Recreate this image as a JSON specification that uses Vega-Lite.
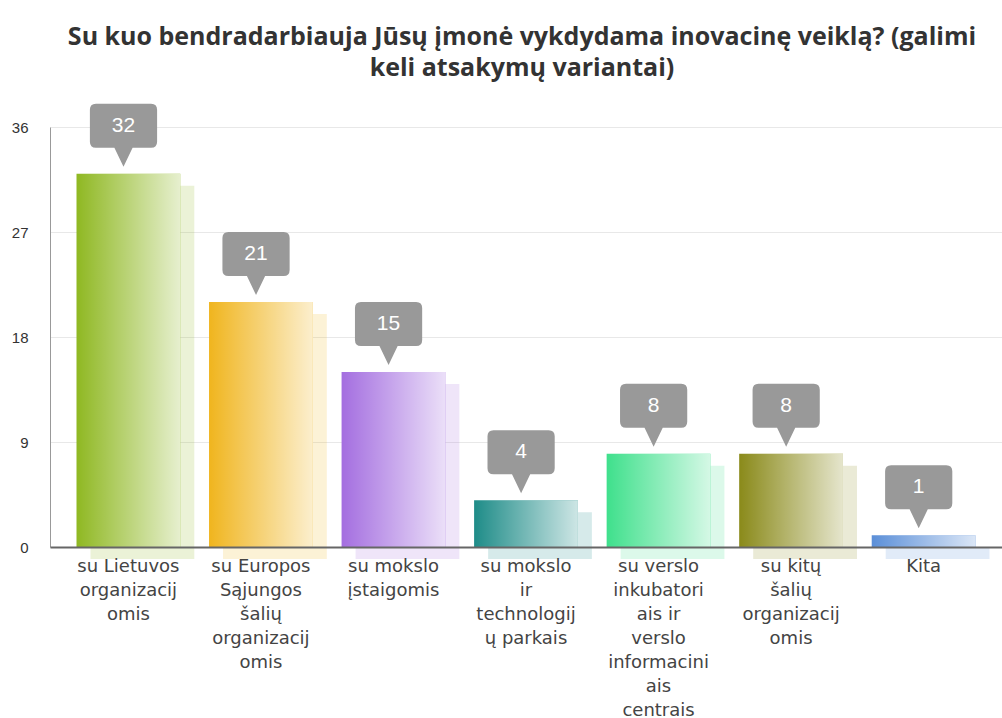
{
  "$schema": "https://vega.github.io/schema/vega-lite/v6.json",
  "autosize": {"type": "none"},
  "width": 952,
  "height": 420,
  "padding": {"left": 50, "top": 127, "right": 0, "bottom": 171},
  "background": "white",
  "title": {
    "text": ["Su kuo bendradarbiauja Jūsų įmonė vykdydama inovacinę veiklą? (galimi", "keli atsakymų variantai)"],
    "anchor": "middle",
    "dx": -4,
    "font": "Open Sans",
    "fontSize": 25,
    "fontWeight": "bold",
    "color": "#333333",
    "lineHeight": 31,
    "offset": 23
  },
  "config": {"view": {"stroke": null}},
  "data": {
    "values": [
      {"category": "su Lietuvos\norganizacij\nomis", "value": 32},
      {"category": "su Europos\nSąjungos\nšalių\norganizacij\nomis", "value": 21},
      {"category": "su mokslo\nįstaigomis", "value": 15},
      {"category": "su mokslo\nir\ntechnologij\nų parkais", "value": 4},
      {"category": "su verslo\ninkubatori\nais ir\nverslo\ninformacini\nais\ncentrais", "value": 8},
      {"category": "su kitų\nšalių\norganizacij\nomis", "value": 8},
      {"category": "Kita", "value": 1}
    ]
  },
  "encoding": {
    "x": {
      "field": "category", "type": "nominal", "sort": null,
      "scale": {"paddingInner": 0.217, "paddingOuter": 0.2},
      "axis": {
        "title": null, "labelAngle": 0, "ticks": false,
        "domainColor": "#666666", "domainWidth": 2, "zindex": 2,
        "labelExpr": "split(datum.label, '\\n')",
        "labelFont": "DejaVu Sans", "labelFontSize": 18, "labelColor": "#444444",
        "labelLineHeight": 24, "labelPadding": 10, "labelBaseline": "top"
      }
    },
    "y": {
      "field": "value", "type": "quantitative",
      "scale": {"domain": [0, 36], "nice": false},
      "axis": {
        "title": null, "values": [0, 9, 18, 27, 36], "ticks": false,
        "grid": true, "gridColor": "#e8e8e8",
        "domainColor": "#999999",
        "labelFont": "Liberation Sans", "labelFontSize": 15, "labelColor": "#333333",
        "labelPadding": 22
      }
    }
  },
  "layer": [
    {
      "mark": {"type": "bar", "opacity": 0.18, "xOffset": 14, "yOffset": 12, "y2Offset": 14},
      "encoding": {
        "color": {
          "field": "category", "type": "nominal", "legend": null, "sort": null,
          "scale": {"range": ["#8fb822", "#f0b51e", "#a46ee0", "#1e8c88", "#3fe08c", "#8a8a1a", "#5b8fd8"]}
        }
      }
    },
    {
      "mark": {"type": "bar"},
      "encoding": {
        "color": {
          "field": "category", "type": "nominal", "legend": null, "sort": null,
          "scale": {"range": ["#8fb822", "#f0b51e", "#a46ee0", "#1e8c88", "#3fe08c", "#8a8a1a", "#5b8fd8"]}
        }
      }
    },
    {
      "mark": {
        "type": "bar",
        "color": {
          "gradient": "linear", "x1": 0, "y1": 0, "x2": 1, "y2": 0,
          "stops": [
            {"offset": 0, "color": "rgba(255,255,255,0)"},
            {"offset": 1, "color": "rgba(255,255,255,0.78)"}
          ]
        }
      }
    },
    {
      "mark": {
        "type": "point", "filled": true, "fill": "#999999", "opacity": 1, "strokeWidth": 0,
        "size": 19600,
        "shape": "M-0.464,-1 L0.324,-1 Q0.41,-1 0.41,-0.914 L0.41,-0.457 Q0.41,-0.371 0.324,-0.371 L0.06,-0.371 L-0.07,-0.1 L-0.2,-0.371 L-0.464,-0.371 Q-0.55,-0.371 -0.55,-0.457 L-0.55,-0.914 Q-0.55,-1 -0.464,-1 Z"
      }
    },
    {
      "mark": {
        "type": "text", "color": "white", "font": "Liberation Sans", "fontSize": 21,
        "baseline": "middle", "dy": -48, "dx": -5
      },
      "encoding": {"text": {"field": "value", "type": "quantitative"}}
    }
  ]
}
